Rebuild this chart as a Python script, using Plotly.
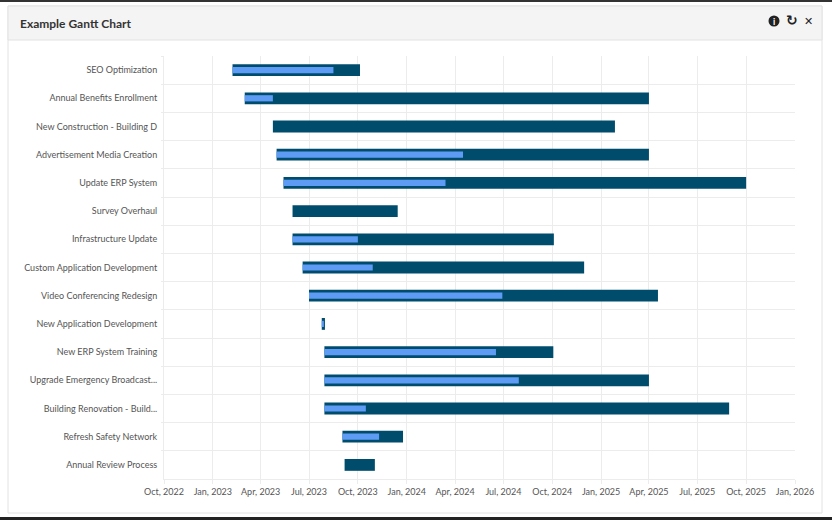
import pandas as pd
import plotly.graph_objects as go

tasks = ["SEO Optimization", "Annual Benefits Enrollment", "New Construction - Building D",
         "Advertisement Media Creation", "Update ERP System", "Survey Overhaul",
         "Infrastructure Update", "Custom Application Development", "Video Conferencing Redesign",
         "New Application Development", "New ERP System Training", "Upgrade Emergency Broadcast...",
         "Building Renovation - Build...", "Refresh Safety Network", "Annual Review Process"]
starts = ["2023-02-07", "2023-03-02", "2023-04-24", "2023-05-01", "2023-05-14", "2023-05-31",
          "2023-05-31", "2023-06-19", "2023-07-01", "2023-07-25", "2023-07-30", "2023-07-30",
          "2023-07-30", "2023-09-02", "2023-09-06"]
ends = ["2023-10-05", "2025-04-01", "2025-01-27", "2025-04-01", "2025-10-01", "2023-12-15",
        "2024-10-04", "2024-11-30", "2025-04-18", "2023-07-31", "2024-10-03", "2025-04-01",
        "2025-08-30", "2023-12-25", "2023-11-02"]
progress = ["2023-08-16", "2023-04-24", None, "2024-04-16", "2024-03-14", None,
            "2023-10-01", "2023-10-29", "2024-06-29", "2023-07-29", "2024-06-17", "2024-07-30",
            "2023-10-16", "2023-11-10", None]

def main():
    df = task_table()
    plot(df)

def task_table():
    df = pd.DataFrame({"task": tasks, "start": starts, "end": ends, "progress": progress})
    df["start"] = pd.to_datetime(df["start"])
    df["end"] = pd.to_datetime(df["end"])
    df["progress"] = pd.to_datetime(df["progress"])
    return df

def millis(later, earlier):
    return (later - earlier).dt.total_seconds() * 1000

def plot(df):
    done = df.dropna(subset=["progress"])
    fig = go.Figure()
    fig.add_trace(go.Bar(y=df["task"], x=millis(df["end"], df["start"]), base=df["start"],
                         orientation="h", width=0.42, marker_color="#004c6d"))
    fig.add_trace(go.Bar(y=done["task"], x=millis(done["progress"], done["start"]), base=done["start"],
                         orientation="h", width=0.22, marker_color="#5e9bf5"))
    fig.update_traces(marker_line_width=0, hoverinfo="skip")

    fig.update_xaxes(type="date", range=["2022-10-01", "2026-01-01"], tick0="2022-10-01", dtick="M3",
                     tickformat="%b, %Y", ticks="outside", ticklen=4, tickcolor="#ececec", automargin=False,
                     gridcolor="#ececec", linecolor="#ececec", showline=True, zeroline=False)
    fig.update_yaxes(type="category", categoryorder="array", categoryarray=tasks, autorange="reversed",
                     tickson="boundaries", ticks="outside", ticklen=2, tickcolor="#ececec", ticklabelstandoff=4,
                     gridcolor="#ececec", linecolor="#ececec", showline=True, zeroline=False, automargin=False)
    #layout and exporting html
    fig.update_layout(width=832, height=520, margin={"r": 37, "t": 56, "l": 164, "b": 41},
                      barmode="overlay", showlegend=False, plot_bgcolor="white", paper_bgcolor="white",
                      font=dict(family="Lato", size=9, color="#555555"))
    add_card(fig)
    fig.write_html("out.html", config={"displayModeBar": False}, post_script="document.body.style.margin='0';")

def add_card(fig):
    # pixel positions on the page turned into paper fractions
    def px(x):
        return (x - 164) / 631
    def py(y):
        return (479 - y) / 423
    fig.add_shape(type="rect", xref="paper", yref="paper", x0=px(8), x1=px(822), y0=py(513), y1=py(6),
                  fillcolor="white", line=dict(color="#e2e2e2", width=1), layer="below")
    fig.add_shape(type="rect", xref="paper", yref="paper", x0=px(8), x1=px(822), y0=py(40), y1=py(6),
                  fillcolor="#f4f4f4", line=dict(color="#e2e2e2", width=1), layer="below")
    fig.add_shape(type="rect", xref="paper", yref="paper", x0=px(0), x1=px(832), y0=py(2), y1=py(0),
                  fillcolor="#333333", line_width=0, layer="below")
    fig.add_shape(type="rect", xref="paper", yref="paper", x0=px(0), x1=px(832), y0=py(520), y1=py(517),
                  fillcolor="#222222", line_width=0, layer="below")
    fig.add_shape(type="circle", xref="paper", yref="paper", x0=px(768.5), x1=px(779.5), y0=py(26.5), y1=py(15.5),
                  fillcolor="#222222", line_width=0)
    fig.add_annotation(x=px(18), y=py(23.5), xref="paper", yref="paper", text="<b>Example Gantt Chart</b>",
                       showarrow=False, xanchor="left", yanchor="middle", font=dict(size=12, color="#333333"))
    fig.add_annotation(x=px(774), y=py(21), xref="paper", yref="paper", text="<b>i</b>",
                       showarrow=False, xanchor="center", yanchor="middle", font=dict(size=9, color="white"))
    fig.add_annotation(x=px(791.5), y=py(20.5), xref="paper", yref="paper", text="<b>↻</b>",
                       showarrow=False, xanchor="center", yanchor="middle", font=dict(family="DejaVu Sans", size=14, color="#222222"))
    fig.add_annotation(x=px(808), y=py(21), xref="paper", yref="paper", text="<b>✕</b>",
                       showarrow=False, xanchor="center", yanchor="middle", font=dict(family="DejaVu Sans", size=11, color="#222222"))

if __name__ == "__main__":
    main()
